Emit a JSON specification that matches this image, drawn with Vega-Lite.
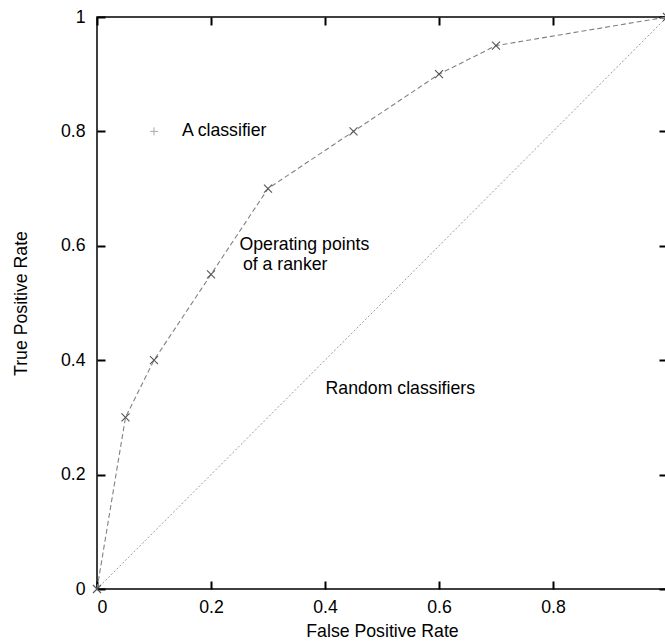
{
  "$schema": "https://vega.github.io/schema/vega-lite/v6.json",
  "width": 570,
  "height": 572,
  "autosize": "none",
  "padding": {"left": 97, "top": 17, "right": 0, "bottom": 52},
  "background": "white",
  "config": {
    "view": {"stroke": "#000", "strokeWidth": 1.5},
    "font": "Liberation Sans",
    "axis": {
      "grid": false,
      "domain": false,
      "labelFont": "Liberation Sans",
      "labelFontSize": 17.7,
      "labelColor": "#000",
      "titleFont": "Liberation Sans",
      "titleFontSize": 17.7,
      "titleFontWeight": "normal",
      "titleColor": "#000"
    }
  },
  "datasets": {
    "ranker": [
      {"fpr": 0, "tpr": 0},
      {"fpr": 0.05, "tpr": 0.3},
      {"fpr": 0.1, "tpr": 0.4},
      {"fpr": 0.2, "tpr": 0.55},
      {"fpr": 0.3, "tpr": 0.7},
      {"fpr": 0.45, "tpr": 0.8},
      {"fpr": 0.6, "tpr": 0.9},
      {"fpr": 0.7, "tpr": 0.95},
      {"fpr": 1, "tpr": 1}
    ],
    "random": [
      {"fpr": 0, "tpr": 0},
      {"fpr": 1, "tpr": 1}
    ],
    "classifier": [
      {"fpr": 0.1, "tpr": 0.8}
    ],
    "notes": [
      {"fpr": 0.149, "tpr": 0.8, "label": "A classifier"},
      {"fpr": 0.25, "tpr": 0.601, "label": "Operating points"},
      {"fpr": 0.256, "tpr": 0.567, "label": "of a ranker"},
      {"fpr": 0.401, "tpr": 0.35, "label": "Random classifiers"}
    ]
  },
  "resolve": {"axis": {"x": "independent", "y": "independent"}},
  "layer": [
    {
      "data": {"name": "random"},
      "mark": {"type": "line", "color": "#9a9a9a", "strokeWidth": 1, "strokeDash": [2, 2]},
      "encoding": {
        "x": {"field": "fpr", "type": "quantitative", "scale": {"domain": [0, 1]},
          "axis": {"orient": "top", "title": null, "labels": false, "tickSize": -8, "tickWidth": 2, "tickColor": "#000", "values": [0, 0.2, 0.4, 0.6, 0.8, 1]}},
        "y": {"field": "tpr", "type": "quantitative", "scale": {"domain": [0, 1]},
          "axis": {"orient": "right", "title": null, "labels": false, "tickSize": -8, "tickWidth": 2, "tickColor": "#000", "values": [0, 0.2, 0.4, 0.6, 0.8, 1]}}
      }
    },
    {
      "data": {"name": "ranker"},
      "mark": {"type": "line", "color": "#808080", "strokeWidth": 1.1, "strokeDash": [5, 3]},
      "encoding": {
        "x": {"field": "fpr", "type": "quantitative", "scale": {"domain": [0, 1]},
          "axis": {"orient": "bottom", "title": "False Positive Rate", "format": "~g", "values": [0, 0.2, 0.4, 0.6, 0.8], "tickSize": -8, "tickWidth": 2, "tickColor": "#000", "labelPadding": 17, "titlePadding": 7}},
        "y": {"field": "tpr", "type": "quantitative", "scale": {"domain": [0, 1]},
          "axis": {"orient": "left", "title": "True Positive Rate", "format": "~g", "values": [0, 0.2, 0.4, 0.6, 0.8, 1], "tickSize": -8, "tickWidth": 2, "tickColor": "#000", "labelPadding": 20, "titlePadding": 30}}
      }
    },
    {
      "data": {"name": "ranker"},
      "mark": {"type": "point", "shape": "M-1,-1L1,1M-1,1L1,-1", "filled": false, "color": "#555", "strokeWidth": 1.1, "size": 64, "opacity": 1},
      "encoding": {
        "x": {"field": "fpr", "type": "quantitative", "axis": null},
        "y": {"field": "tpr", "type": "quantitative", "axis": null}
      }
    },
    {
      "data": {"name": "classifier"},
      "mark": {"type": "point", "shape": "M-1,0L1,0M0,-1L0,1", "filled": false, "color": "#aaa", "strokeWidth": 1, "size": 64, "opacity": 1},
      "encoding": {
        "x": {"field": "fpr", "type": "quantitative", "axis": null},
        "y": {"field": "tpr", "type": "quantitative", "axis": null}
      }
    },
    {
      "data": {"name": "notes"},
      "mark": {"type": "text", "align": "left", "baseline": "middle", "fontSize": 17.7, "font": "Liberation Sans", "color": "#000"},
      "encoding": {
        "x": {"field": "fpr", "type": "quantitative", "axis": null},
        "y": {"field": "tpr", "type": "quantitative", "axis": null},
        "text": {"field": "label"}
      }
    }
  ]
}
